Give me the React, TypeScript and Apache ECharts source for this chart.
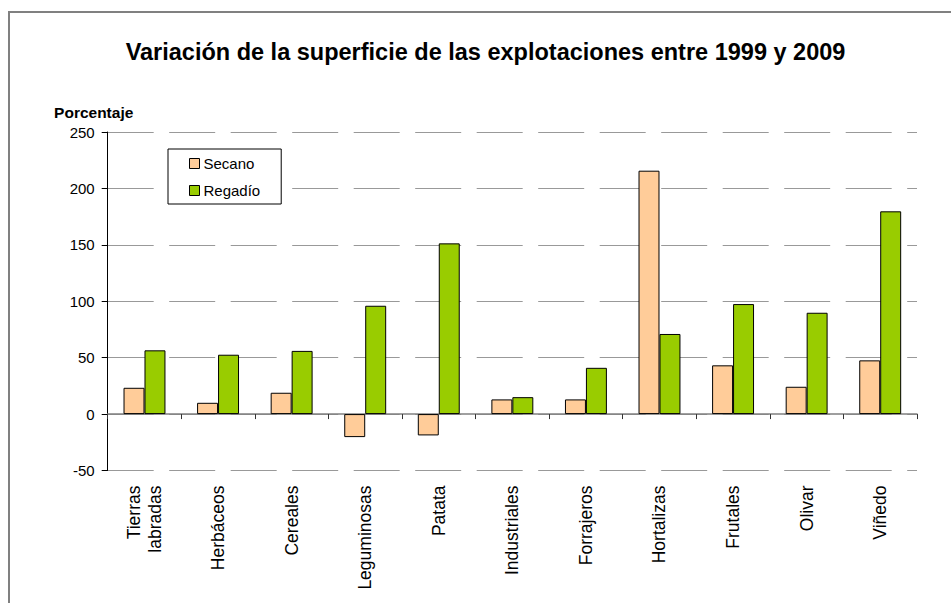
import React, { useEffect, useRef } from "react";
import * as echarts from "echarts";

const categories = [
  "Tierras\nlabradas",
  "Herbáceos",
  "Cereales",
  "Leguminosas",
  "Patata",
  "Industriales",
  "Forrajeros",
  "Hortalizas",
  "Frutales",
  "Olivar",
  "Viñedo",
];
const secano = [23.3, 10, 18.9, -20.4, -18.9, 13, 13, 215.7, 43.2, 24.2, 47.6];
const regadio = [56.5, 52.6, 56, 96, 151.3, 15, 41, 71, 97.5, 89.8, 179.7];
const seriesNames = ["Secano", "Regadío"];
const titleText = "Variación de la superficie de las explotaciones entre 1999 y 2009";
const yAxisName = "Porcentaje";

const FONT = "'Liberation Sans', Arial, sans-serif";

export default function App() {
  const ref = useRef<HTMLDivElement>(null);
  useEffect(() => {
    if (!ref.current) return;
    const chart = echarts.init(ref.current, undefined, { renderer: "svg" });
    chart.setOption({
      animation: false,
      backgroundColor: "#ffffff",
      textStyle: { fontFamily: FONT },
      title: {
        text: titleText,
        left: 485.5,
        textAlign: "center",
        top: 40,
        padding: 0,
        textStyle: { fontFamily: FONT, fontSize: 23.5, fontWeight: "bold", color: "#000" },
      },
      graphic: [
        {
          type: "rect",
          shape: { x: 9, y: 12, width: 980, height: 640 },
          style: { fill: "none", stroke: "#808080", lineWidth: 2 },
          silent: true,
        },
      ],
      legend: {
        orient: "vertical",
        left: 168,
        top: 149,
        padding: [7, 21, 6, 21],
        itemGap: 12,
        itemWidth: 10,
        itemHeight: 10,
        icon: "rect",
        borderColor: "#000",
        borderWidth: 1,
        backgroundColor: "#fff",
        textStyle: { fontFamily: FONT, fontSize: 15, color: "#000", padding: [0, 0, 0, -1] },
        itemStyle: { borderColor: "#000", borderWidth: 1 },
        data: seriesNames,
      },
      grid: {
        left: 107.7,
        right: 34,
        top: 132,
        bottom: 132.5,
        containLabel: false,
        outerBoundsMode: "none",
      },
      xAxis: {
        type: "category",
        data: categories,
        axisLine: { onZero: true, lineStyle: { color: "#808080", width: 1.5 } },
        axisTick: { show: true, length: 5, lineStyle: { color: "#333" } },
        axisLabel: {
          rotate: 90,
          margin: 15,
          interval: 0,
          fontFamily: FONT,
          fontSize: 17.5,
          lineHeight: 21,
          color: "#000",
        },
        splitLine: { show: false },
      },
      yAxis: {
        type: "value",
        min: -50,
        max: 250,
        interval: 50,
        name: yAxisName,
        nameLocation: "end",
        nameGap: 12,
        nameTextStyle: {
          fontFamily: FONT,
          fontSize: 15.5,
          fontWeight: "bold",
          color: "#000",
          align: "center",
          padding: [0, 28, 0, 0],
        },
        axisLine: { show: true, lineStyle: { color: "#000", width: 1 } },
        axisTick: { show: true, length: 6, lineStyle: { color: "#000" } },
        axisLabel: { fontFamily: FONT, fontSize: 15, color: "#000", margin: 13 },
        splitLine: { show: true, lineStyle: { color: "#999", width: 1, type: [46, 15.5] } },
      },
      series: [
        {
          name: seriesNames[0],
          type: "bar",
          data: secano,
          barGap: "0%",
          barCategoryGap: "43%",
          itemStyle: { color: "#FFCC99", borderColor: "#000", borderWidth: 1 },
        },
        {
          name: seriesNames[1],
          type: "bar",
          data: regadio,
          barGap: "0%",
          barCategoryGap: "43%",
          itemStyle: { color: "#99CC00", borderColor: "#000", borderWidth: 1 },
        },
      ],
    });
    return () => chart.dispose();
  }, []);
  return (
    <div
      ref={ref}
      style={{ position: "fixed", left: 0, top: 0, width: 951, height: 603 }}
    />
  );
}
